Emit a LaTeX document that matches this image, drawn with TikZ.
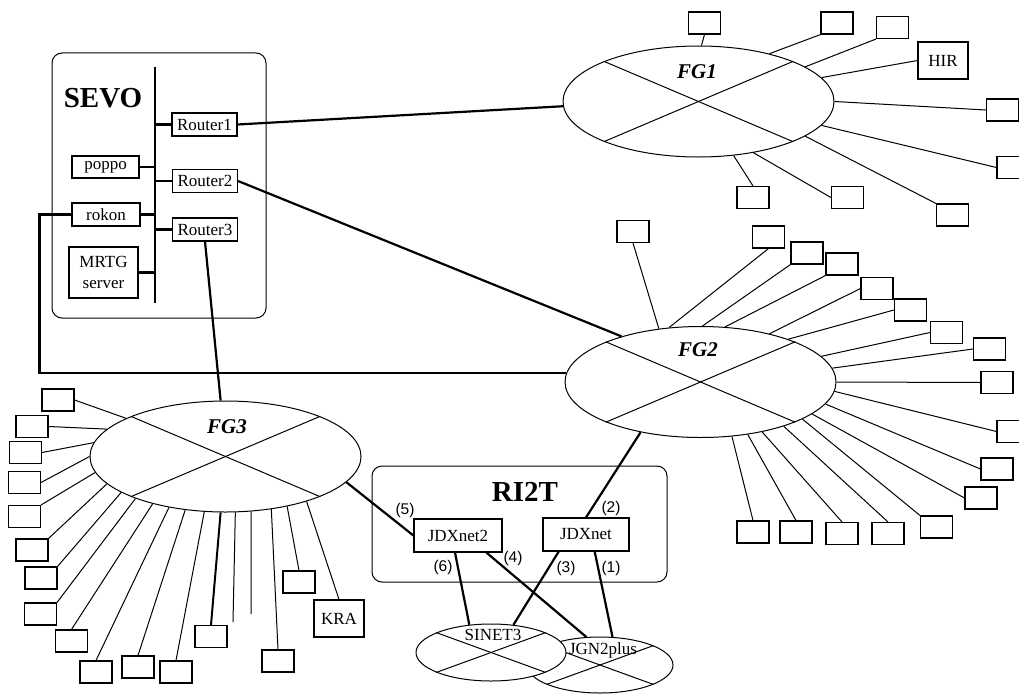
\documentclass[tikz,border=0pt]{standalone}
\usepackage{fontspec}
\setmainfont{Liberation Serif}
\newfontfamily\numfont{Liberation Sans}
\usepackage{tikz}
\usetikzlibrary{shapes,arrows,positioning,calc}

\begin{document}
\begin{tikzpicture}[
			x = 1pt, y = -1pt,
			every node/.style = {font = \fontsize{17}{21}\selectfont},
			pc/.style = {draw, line width = 1.1pt, inner sep = 0pt, minimum width = 32pt, minimum height = 22pt},
			dev/.style = {pc, minimum width = #1},
			net/.style = {draw, ellipse, line width = 1pt, inner sep = 0pt, minimum width = 271pt, minimum height = 111pt},
			subnet/.style = {net, minimum width = 150pt, minimum height = 57pt},
			link/.style = {line width = 2.2pt},
			spoke/.style = {line width = 1pt},
			site/.style = {draw, rounded corners = 10pt, line width = 1pt},
			sitename/.style = {font = \fontsize{29}{29}\selectfont\bfseries},
			fg/.style = {font = \fontsize{21}{21}\selectfont\bfseries\itshape},
			num/.style = {font = \numfont\fontsize{15.5}{16}\selectfont, inner sep = 0pt}
			]

			\useasboundingbox (0,0) rectangle (1019,693);

			% SEVO
			\draw[site] (52,53) rectangle (266,318);
			\node[sitename] (sevo) at (103,98) {SEVO};
			\node[dev = 65pt, minimum height = 23pt] (r1) at (204.5,124.5) {Router1};
			\node[dev = 65pt, minimum height = 23pt] (r2) at (205,181) {Router2};
			\node[dev = 65pt, minimum height = 23pt] (r3) at (205,229.5) {Router3};
			\node[dev = 67pt] (poppo) at (105.5,167) {poppo};
			\node[dev = 68pt, minimum height = 23pt] (rokon) at (106,214.5) {rokon};
			\node[dev = 69pt, minimum height = 51pt, align = center] (mrtg) at (103.5,272.5) {MRTG\\server};

			\coordinate (bustop) at (155,67);
			\coordinate (busbot) at (155,303);
			\draw[link] (bustop) -- (busbot);
			\foreach \n in {r1,r2,r3}{
				\draw[link] (\n.west) -- (\n.west -| bustop);
			}
			\foreach \n in {poppo,rokon,mrtg}{
				\draw[link] (\n.east) -- (\n.east -| bustop);
			}

			% clouds
			\node[net] (fg1) at (698.5,101.5) {};
			\node[net] (fg2) at (700.5,382) {};
			\node[net] (fg3) at (225.5,456.5) {};
			\foreach \e in {fg1,fg2,fg3}{
				\draw[spoke] (\e.157) -- (\e.337);
				\draw[spoke] (\e.203) -- (\e.23);
			}
			\node[fg] (fg1name) at (697,72) {FG1};
			\node[fg] (fg2name) at (698,350) {FG2};
			\node[fg] (fg3name) at (227,427) {FG3};

			\foreach \n/\x/\y/\a/\s in {1/704.5/23/87/south, 2/837/23/34/south west, 3/892.5/27.5/18/south west,
				5/1002.5/110/0/west, 6/1013/167.5/349/west, 7/952.5/215/342/north west,
				8/847.5/197.5/317/west, 9/753/197.5/303/north}{
				\node[pc] (fg1s\n) at (\x,\y) {};
				\draw[spoke] (fg1s\n.\s) -- (fg1.\a);
			}
			\node[dev = 50pt, minimum height = 37pt] (hir) at (943,60.5) {HIR};
			\draw[spoke] (hir.west) -- (fg1.11);

			\foreach \n/\x/\y/\a/\s in {a/633/231.5/128/south, b/768.5/237/120/south, c/807/253/88/south west,
				d/842/264/66/south west, e/877/288.5/35/west, f/910.5/310/26/west, g/946.5/332.5/12/west,
				h/989.5/349/6/west, i/997/382.5/0/west, j/1013/431.5/356/west, k/997/469/350/west,
				l/981/498/344/west, m/936.5/527/340/north west, n/888/533.5/332/north,
				o/842/533.5/321/north, p/796/532/312/north, q/753/532/300/north}{
				\node[pc] (fg2s\n) at (\x,\y) {};
				\draw[spoke] (fg2s\n.\s) -- (fg2.\a);
			}

			\foreach \n/\x/\y/\a/\s in {1/58/400/159/east, 2/32/426.5/167/east, 3/25.5/452.5/174/east,
				4/24.5/482.5/180/east, 5/24.5/516.5/187/north east, 6/32/550/193/north east,
				7/41/578/199/north east, 8/40.5/614/205/north east, 9/71.5/641/213/north,
				10/96/672/222/north, 11/138/667/233/north, 12/176/672/249/north,
				14/278/661/311/north, 15/299/582/321.5/north}{
				\node[pc] (fg3s\n) at (\x,\y) {};
				\draw[spoke] (fg3s\n.\s) -- (fg3.\a);
			}
			\node[pc] (fg3s13) at (211,636.5) {};
			\draw[line width = 2pt] (fg3s13.north) -- (fg3.265);
			\node[dev = 50pt, minimum height = 37pt] (kra) at (339,618.5) {KRA};
			\draw[spoke] (kra.north) -- (fg3.331);
			\coordinate (fg3end1) at (233,622);
			\coordinate (fg3end2) at (251,614);
			\draw[spoke] (fg3.280) -- (fg3end1);
			\draw[spoke] (fg3.295) -- (fg3end2);

			% RI2T
			\draw[site] (372,466) rectangle (667,582);
			\node[sitename] (ri2t) at (525,492) {RI2T};
			\node[dev = 88pt, minimum height = 33pt] (jdx2) at (458,535.5) {JDXnet2};
			\node[dev = 86pt, minimum height = 33pt] (jdx) at (586,534.5) {JDXnet};

			\node[subnet, minimum width = 146pt, minimum height = 56pt] (jgn) at (600,665) {};
			\draw[spoke] (jgn.160) -- (jgn.340);
			\draw[spoke] (jgn.200) -- (jgn.20);
			\node[subnet, fill = white] (sinet) at (491,652.5) {};
			\draw[spoke] (sinet.160) -- (sinet.340);
			\draw[spoke] (sinet.200) -- (sinet.20);
			\node (sinetname) at (493,635) {SINET3};
			\node (jgnname) at (603,650) {JGN2plus};

			\draw[link] (r1.east) -- (fg1.182);
			\draw[link] (r2.east) -- (fg2.150);
			\draw[link] (r3.south) -- (fg3.95);
			\draw[link] (rokon.west) -- ++(-32,0) |- (fg2.176);
			\draw[link] (fg3.348) -- (jdx2.west);
			\draw[link] (fg2.220) -- (jdx.north);
			\draw[link] (jdx.297) -- (jgn.66);
			\draw[link] (jdx.212) -- (sinet.51);
			\draw[link] (jdx2.260) -- (sinet.128);
			\draw[link] (jdx2.329) -- (jgn.116);

			\foreach \n/\x/\y in {1/611/568, 2/611/508, 3/566/568, 4/513/558, 5/405/510, 6/443/567}{
				\node[num] (lbl\n) at (\x,\y) {(\n)};
			}

		\end{tikzpicture}
\end{document}
